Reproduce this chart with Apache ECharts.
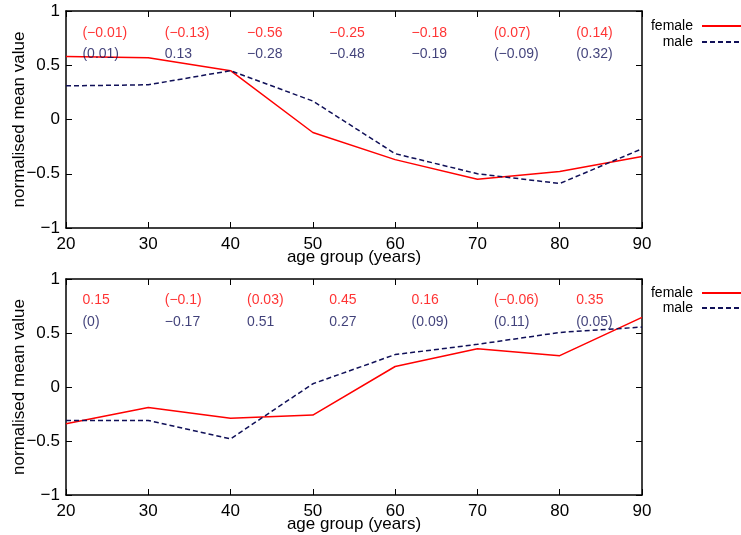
<!DOCTYPE html>
<html>
<head>
<meta charset="utf-8">
<script src="https://cdn.jsdelivr.net/npm/echarts@6/dist/echarts.min.js"></script>
<style>
  html, body { margin: 0; padding: 0; background: #fff; }
  #main { width: 741px; height: 535px; }
</style>
</head>
<body>
<div id="main"></div>
<script>
// age groups on the x axis
const ageGroups = [20, 30, 40, 50, 60, 70, 80, 90];
const yTicks = [-1, -0.5, 0, 0.5, 1];

// top panel
const topFemale = [0.58, 0.57, 0.45, -0.12, -0.37, -0.55, -0.48, -0.34];
const topMale = [0.31, 0.32, 0.45, 0.17, -0.315, -0.50, -0.59, -0.27];
const topFemaleNotes = ["(−0.01)", "(−0.13)", "−0.56", "−0.25", "−0.18", "(0.07)", "(0.14)"];
const topMaleNotes = ["(0.01)", "0.13", "−0.28", "−0.48", "−0.19", "(−0.09)", "(0.32)"];

// bottom panel
const botFemale = [-0.34, -0.19, -0.29, -0.26, 0.19, 0.355, 0.29, 0.645];
const botMale = [-0.31, -0.31, -0.48, 0.03, 0.30, 0.395, 0.505, 0.555];
const botFemaleNotes = ["0.15", "(−0.1)", "(0.03)", "0.45", "0.16", "(−0.06)", "0.35"];
const botMaleNotes = ["(0)", "−0.17", "0.51", "0.27", "(0.09)", "(0.11)", "(0.05)"];

const RED = "#ff0000";
const NAVY = "#101058";
const FONT = "Liberation Sans";

const chart = echarts.init(document.getElementById("main"));

const minus = v => String(v).replace("-", "−");

function xAxes(gi) {
  const base = {
    type: "value", gridIndex: gi, min: 20, max: 90, interval: 10,
    axisLine: { show: true, onZero: false, lineStyle: { color: "#000", width: 1.5 } },
    axisTick: { show: true, inside: true, length: 6, lineStyle: { color: "#000" } },
    splitLine: { show: false }
  };
  return [
    Object.assign({}, base, {
      position: "bottom",
      axisLabel: { color: "#000", fontSize: 17, fontFamily: FONT, margin: 8 },
      name: "age group (years)", nameLocation: "middle", nameGap: 21, nameMoveOverlap: false,
      nameTextStyle: { color: "#000", fontSize: 17, fontFamily: FONT }
    }),
    Object.assign({}, base, { position: "top", axisLabel: { show: false } })
  ];
}

function yAxes(gi) {
  const base = {
    type: "value", gridIndex: gi, min: -1, max: 1, interval: 0.5,
    axisLine: { show: true, onZero: false, lineStyle: { color: "#000", width: 1.5 } },
    axisTick: { show: true, inside: true, length: 6, lineStyle: { color: "#000" } },
    splitLine: { show: false }
  };
  return [
    Object.assign({}, base, {
      position: "left",
      axisLabel: { color: "#000", fontSize: 17, fontFamily: FONT, margin: 6, formatter: minus },
      name: "normalised mean value", nameLocation: "middle", nameGap: 38, nameRotate: 90,
      nameMoveOverlap: false,
      nameTextStyle: { color: "#000", fontSize: 17, fontFamily: FONT }
    }),
    Object.assign({}, base, { position: "right", axisLabel: { show: false } })
  ];
}

function lineSeries(name, values, color, dashed, axisIdx) {
  return {
    name: name, type: "line", xAxisIndex: axisIdx, yAxisIndex: axisIdx,
    data: ageGroups.map((a, i) => [a, values[i]]),
    symbol: "none", smooth: false,
    lineStyle: { color: color, width: 1.5, type: dashed ? [5, 3] : "solid" },
    itemStyle: { color: color },
    z: 3
  };
}

function noteSeries(notes, row, color, axisIdx) {
  return {
    type: "scatter", xAxisIndex: axisIdx, yAxisIndex: axisIdx,
    symbolSize: 0, silent: true,
    data: notes.map((t, i) => ({ value: [ageGroups[i] + 2, row], text: t })),
    label: {
      show: true, position: "right", distance: 0,
      formatter: p => p.data.text,
      color: color, fontSize: 14, fontFamily: FONT
    },
    z: 4
  };
}

const option = {
  backgroundColor: "#fff",
  animation: false,
  grid: [
    { left: 66, width: 576, top: 11, height: 217, outerBoundsMode: "none", containLabel: false },
    { left: 66, width: 576, top: 279, height: 216, outerBoundsMode: "none", containLabel: false }
  ],
  xAxis: [...xAxes(0), ...xAxes(1)],
  yAxis: [...yAxes(0), ...yAxes(1)],
  legend: [
    { right: -17, top: 14 },
    { right: -17, top: 30 },
    { right: -17, top: 281 },
    { right: -17, top: 296 }
  ].map((pos, i) => Object.assign({
    data: [i % 2 === 0 ? "female" : "male"],
    orient: "vertical", align: "right",
    itemWidth: 50, itemHeight: 10,
    itemStyle: { opacity: 0 },
    textStyle: { color: "#000", fontSize: 14, fontFamily: FONT, padding: [0, 4, 0, 0] }
  }, pos)),
  series: [
    lineSeries("female", topFemale, RED, false, 0),
    lineSeries("male", topMale, NAVY, true, 0),
    noteSeries(topFemaleNotes, 0.8, RED, 0),
    noteSeries(topMaleNotes, 0.6, NAVY, 0),
    lineSeries("female", botFemale, RED, false, 2),
    lineSeries("male", botMale, NAVY, true, 2),
    noteSeries(botFemaleNotes, 0.8, RED, 2),
    noteSeries(botMaleNotes, 0.6, NAVY, 2)
  ]
};

chart.setOption(option);
</script>
</body>
</html>
